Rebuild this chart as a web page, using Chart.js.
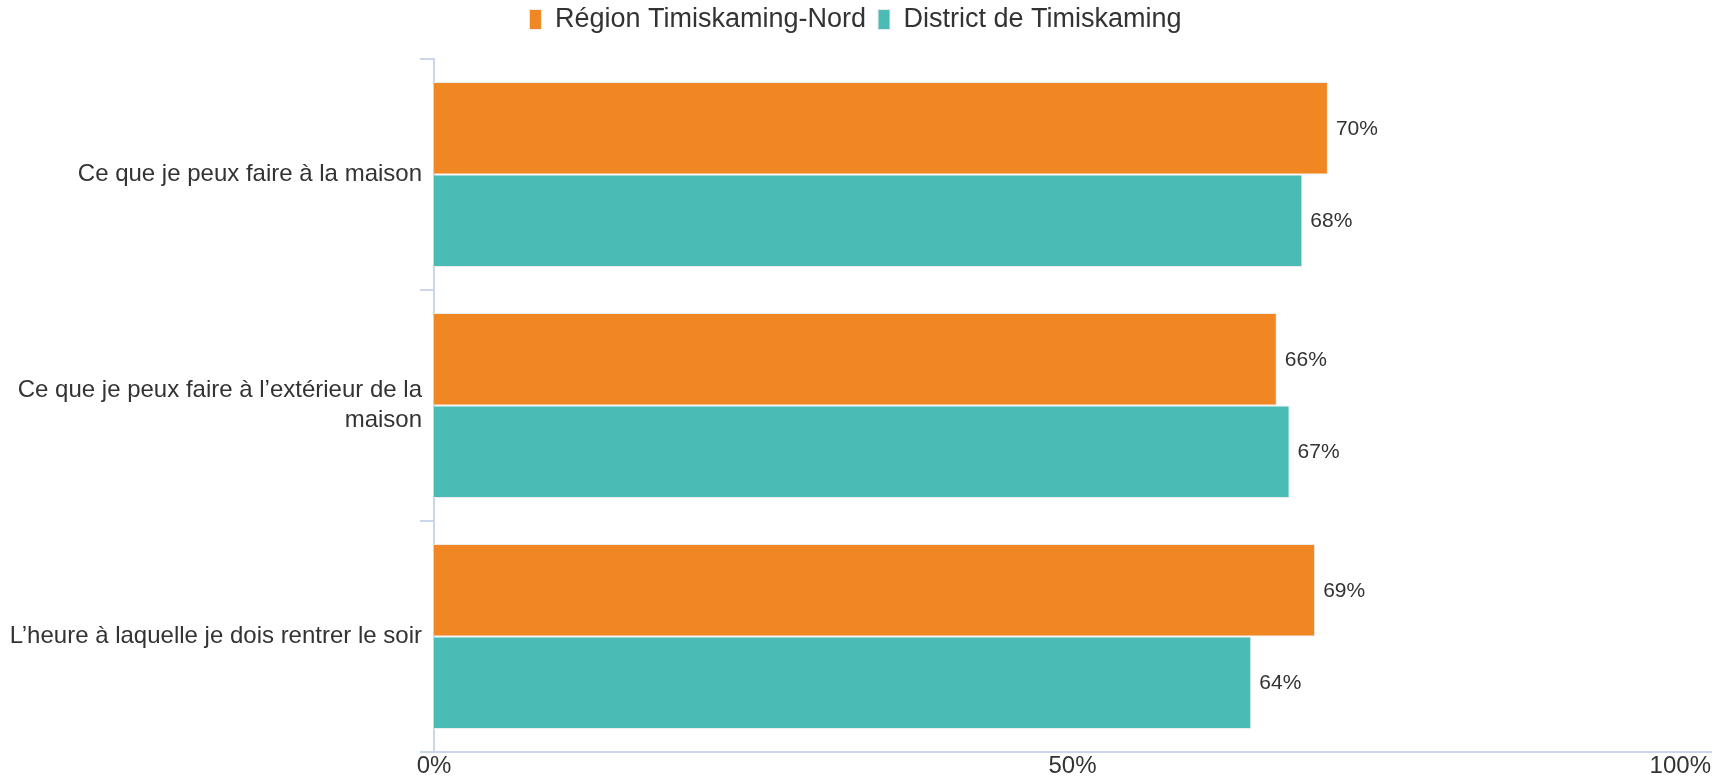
<!DOCTYPE html>
<html lang="fr">
  <head>
    <meta charset="utf-8">
    <title>Timiskaming</title>
    <style> body {padding: 0; margin: 0; background: #fff;} </style>
    <script src="https://cdn.jsdelivr.net/npm/chart.js@4.4.0/dist/chart.umd.min.js"></script>
  </head>
  <body>
    <div style="position: relative; width:1729px; height:776px">
      <canvas id="chart"></canvas>
    </div>
    <script>
      var categories = [
        'Ce que je peux faire à la maison',
        ['Ce que je peux faire à l’extérieur de la', 'maison'],
        'L’heure à laquelle je dois rentrer le soir'
      ];
      var seriesNames = ['Région Timiskaming-Nord', 'District de Timiskaming'];
      var nordValues = [70, 66, 69];
      var districtValues = [68, 67, 64];
      var xTicks = [0, 50, 100];

      var fontFamily = '"Liberation Sans", Arial, Helvetica, sans-serif';
      var axisColor = '#ccd6eb';

      // value labels at the end of each bar
      var valueLabels = {
        id: 'valueLabels',
        afterDatasetsDraw(chart) {
          var ctx = chart.ctx;
          ctx.save();
          ctx.font = '21px ' + fontFamily;
          ctx.fillStyle = '#333333';
          ctx.textAlign = 'left';
          ctx.textBaseline = 'middle';
          chart.data.datasets.forEach((ds, i) => {
            chart.getDatasetMeta(i).data.forEach((bar, j) => {
              ctx.fillText(ds.data[j] + '%', bar.x + 8, bar.y + 1);
            });
          });
          ctx.restore();
        }
      };

      // x tick labels: first centred, last flush with the axis end
      var xLabels = {
        id: 'xLabels',
        afterDraw(chart) {
          var scale = chart.scales.x;
          var ctx = chart.ctx;
          ctx.save();
          ctx.font = '24px ' + fontFamily;
          ctx.fillStyle = '#333333';
          ctx.textBaseline = 'alphabetic';
          scale.ticks.forEach((t, i) => {
            var x = scale.getPixelForValue(t.value);
            ctx.textAlign = i === scale.ticks.length - 1 ? 'right' : 'center';
            ctx.fillText(t.value + '%', x, scale.top + 21);
          });
          ctx.restore();
        }
      };

      new Chart(document.getElementById('chart'), {
        type: 'bar',
        data: {
          labels: categories,
          datasets: [
            {
              label: seriesNames[0],
              data: nordValues,
              backgroundColor: '#f08723',
              borderColor: '#ececec',
              borderWidth: 1
            },
            {
              label: seriesNames[1],
              data: districtValues,
              backgroundColor: '#4bbbb5',
              borderColor: '#ececec',
              borderWidth: 1
            }
          ]
        },
        options: {
          indexAxis: 'y',
          responsive: true,
          maintainAspectRatio: false,
          animation: false,
          datasets: {
            bar: { categoryPercentage: 0.8, barPercentage: 1.0 }
          },
          layout: { padding: { top: -6, right: 18, left: 0, bottom: 0 } },
          plugins: {
            legend: {
              position: 'top',
              labels: {
                boxWidth: 12,
                boxHeight: 20,
                padding: 12,
                color: '#333333',
                font: { size: 27, family: fontFamily }
              }
            },
            // empty spacer under the legend
            title: {
              display: true,
              text: '',
              weight: 500,
              padding: 0,
              font: { size: 16, lineHeight: 1 }
            },
            tooltip: { enabled: false }
          },
          scales: {
            x: {
              min: 0,
              max: 100,
              afterBuildTicks(scale) {
                scale.ticks = xTicks.map(v => ({ value: v }));
              },
              afterFit(scale) { scale.height = 24; },
              grid: { display: false, drawTicks: false },
              border: { display: true, color: axisColor, width: 2 },
              ticks: { display: false }
            },
            y: {
              afterFit(scale) { scale.width = 434; },
              grid: {
                offset: true,
                drawOnChartArea: false,
                drawTicks: true,
                tickLength: 14,
                color: axisColor,
                lineWidth: 2
              },
              border: { display: true, color: axisColor, width: 2 },
              ticks: {
                padding: -2,
                color: '#333333',
                font: { size: 24, family: fontFamily, lineHeight: 1.25 }
              }
            }
          }
        },
        plugins: [valueLabels, xLabels]
      });
    </script>
  </body>
</html>
